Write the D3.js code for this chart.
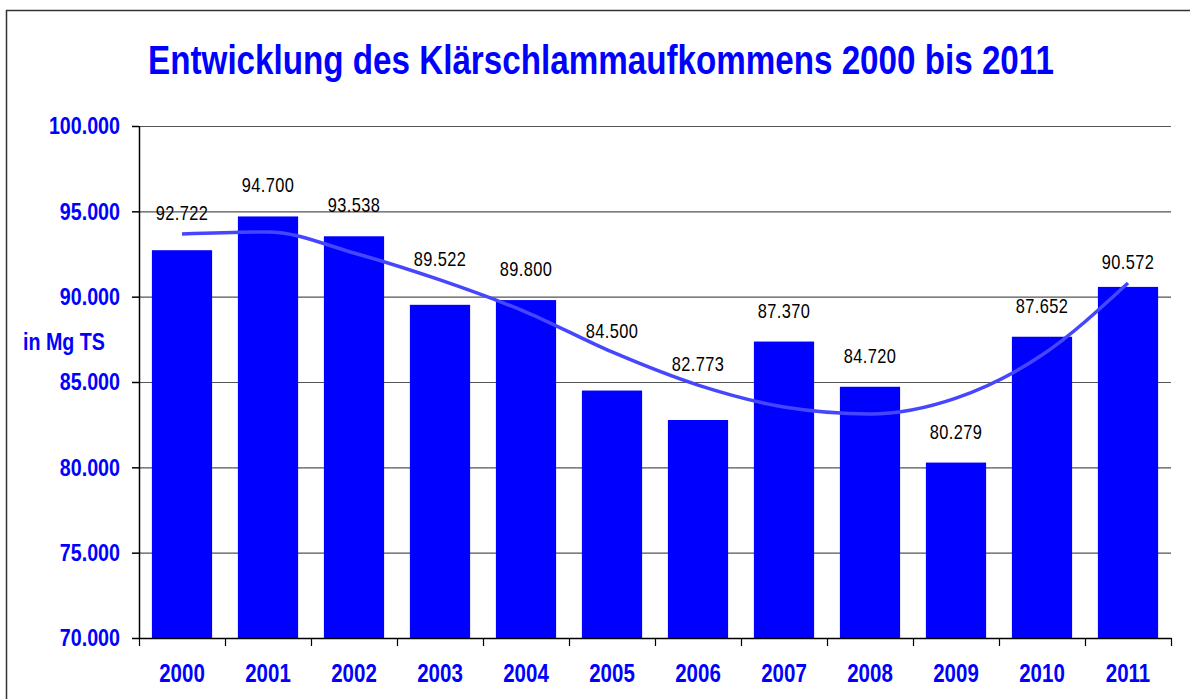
<!DOCTYPE html>
<html>
<head>
<meta charset="utf-8">
<script src="https://cdn.jsdelivr.net/npm/d3@7"></script>
<style>
  body { margin: 0; background: #fff; }
  svg { display: block; }
  svg text { font-family: "Liberation Sans", Arial, sans-serif; }
</style>
</head>
<body>
<div id="chart"></div>
<script>
// Klärschlammaufkommen in Mg TS
var years = ["2000", "2001", "2002", "2003", "2004", "2005", "2006", "2007", "2008", "2009", "2010", "2011"];
var values = [92722, 94700, 93538, 89522, 89800, 84500, 82773, 87370, 84720, 80279, 87652, 90572];
// trend line at each year
var trend = [93670, 93790, 92560, 90980, 89100, 86760, 84820, 83540, 83130, 84060, 86580, 90800];
var yTicks = [70000, 75000, 80000, 85000, 90000, 95000, 100000];

var title = "Entwicklung des Klärschlammaufkommens 2000 bis 2011";
var yLabel = "in Mg TS";

var width = 1190, height = 699;
var mLeft = 139, mRight = 1171, mTop = 126, mBottom = 638;

var fmt = d3.formatLocale({ decimal: ",", thousands: ".", grouping: [3] }).format(",.0f");
var fmt3 = function(v) { return d3.format(".3f")(v / 1000); }; // 100.000 style

// squeeze text horizontally so it looks like Arial Narrow
var squeeze = 0.82;
function narrow(sel) {
  sel.each(function() {
    var t = d3.select(this);
    var tx = +t.attr("x") || 0;
    t.attr("x", 0).attr("transform", "translate(" + tx + ",0) scale(" + squeeze + ",1)");
  });
}

var svg = d3.select("#chart").append("svg")
    .attr("width", width)
    .attr("height", height);

// outer frame
svg.append("rect")
    .attr("x", 6.5).attr("y", 10.5)
    .attr("width", width + 20).attr("height", height + 20)
    .attr("fill", "none")
    .attr("stroke", "#333")
    .attr("stroke-width", 1.5);

var x = d3.scaleBand()
    .domain(years)
    .range([mLeft, mRight])
    .paddingInner(0.3)
    .paddingOuter(0.15);

var xBand = d3.scaleBand().domain(years).range([mLeft, mRight]);

var y = d3.scaleLinear()
    .domain([70000, 100000])
    .range([mBottom, mTop]);

// gridlines
svg.append("g")
  .selectAll("line")
  .data(yTicks.filter(function(d) { return d > 70000; }))
  .enter().append("line")
    .attr("x1", mLeft).attr("x2", mRight)
    .attr("y1", function(d) { return y(d) + 0.5; })
    .attr("y2", function(d) { return y(d) + 0.5; })
    .attr("stroke", "#555")
    .attr("stroke-width", 1.2);

// bars
svg.append("g")
  .selectAll("rect")
  .data(years)
  .enter().append("rect")
    .attr("x", function(d) { return x(d); })
    .attr("width", x.bandwidth())
    .attr("y", function(d, i) { return y(values[i]); })
    .attr("height", function(d, i) { return mBottom - y(values[i]); })
    .attr("fill", "#0000ff");

// trend line
var line = d3.line()
    .x(function(d, i) { return xBand(years[i]) + xBand.bandwidth() / 2; })
    .y(function(d) { return y(d); })
    .curve(d3.curveMonotoneX);

svg.append("path")
    .datum(trend)
    .attr("d", line)
    .attr("fill", "none")
    .attr("stroke", "#4646ff")
    .attr("stroke-width", 3.5);

// y axis
var yAxis = svg.append("g")
    .attr("transform", "translate(" + mLeft + ",0)")
    .call(d3.axisLeft(y).tickValues(yTicks).tickSize(7).tickPadding(12).tickFormat(fmt3));
yAxis.select(".domain").attr("stroke", "#000").attr("stroke-width", 1.5).attr("d", "M0.5," + mTop + "V" + mBottom);
yAxis.selectAll(".tick line").attr("stroke", "#000").attr("stroke-width", 1.5);
yAxis.selectAll(".tick text")
    .attr("fill", "#0000ff")
    .style("font-size", "24px")
    .style("font-weight", "bold")
    .call(narrow);

// x axis
var xAxis = svg.append("g")
    .attr("transform", "translate(0," + mBottom + ")")
    .call(d3.axisBottom(xBand).tickSize(0).tickPadding(26));
xAxis.select(".domain").attr("stroke", "#000").attr("stroke-width", 1.5);
xAxis.selectAll(".tick text")
    .attr("fill", "#0000ff")
    .style("font-size", "25px")
    .style("font-weight", "bold")
    .call(narrow);
// ticks between the categories
xAxis.append("g")
  .selectAll("line")
  .data(years.concat(["end"]))
  .enter().append("line")
    .attr("x1", function(d, i) { return (i < years.length ? xBand(d) : mRight) + 0.5; })
    .attr("x2", function(d, i) { return (i < years.length ? xBand(d) : mRight) + 0.5; })
    .attr("y1", 0).attr("y2", 8)
    .attr("stroke", "#000")
    .attr("stroke-width", 1.2);

// value labels: above the bar, or above the trend line when it runs just over the bar
svg.append("g")
  .selectAll("text")
  .data(years)
  .enter().append("text")
    .attr("x", function(d) { return xBand(d) + xBand.bandwidth() / 2; })
    .attr("y", function(d, i) {
      var barTop = y(values[i]), t = y(trend[i]);
      if (t < barTop && t > barTop - 45) return t - 14;
      return barTop - 24;
    })
    .attr("text-anchor", "middle")
    .attr("fill", "#000")
    .style("font-size", "20px")
    .style("letter-spacing", "0.5px")
    .text(function(d, i) { return fmt(values[i]); })
    .call(narrow);

// y label
svg.append("text")
    .attr("x", 23)
    .attr("y", y(87500) + 11)
    .attr("fill", "#0000ff")
    .style("font-size", "24px")
    .style("font-weight", "bold")
    .text(yLabel)
    .call(narrow);

// title
svg.append("text")
    .attr("x", 601)
    .attr("y", 74)
    .attr("text-anchor", "middle")
    .attr("fill", "#0000ff")
    .style("font-size", "40.5px")
    .style("font-weight", "bold")
    .text(title)
    .call(narrow);
</script>
</body>
</html>
